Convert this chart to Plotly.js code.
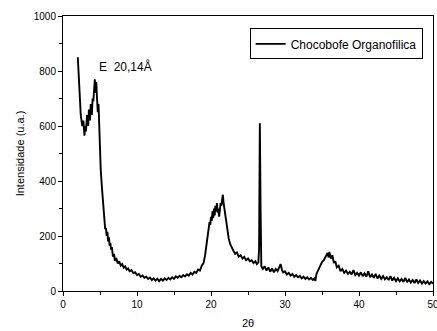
<!DOCTYPE html>
<html>
<head>
<meta charset="utf-8">
<script src="https://cdn.plot.ly/plotly-3.0.1.min.js"></script>
<style>html,body{margin:0;padding:0;background:#fff;}#chart{width:437px;height:331px;}</style>
</head>
<body>
<div id="chart"></div>
<script>
const seriesName = "Chocobofe Organofilica";
const peakLabel = "E  20,14Å";
const peakLabelX = 4.6;
const peakLabelY = 815;

const twoTheta = [
2.0,2.1,2.25,2.4,2.6,2.75,2.9,3.0,3.1,3.25,3.4,3.5,3.65,3.75,3.9,4.0,4.1,4.2,4.3,4.4,4.5,4.6,4.7,4.8,4.9,
5.0,5.1,5.25,5.4,5.5,5.6,5.7,5.8,5.9,6.0,6.1,6.2,6.3,6.4,6.5,6.6,6.75,6.9,7.0,7.2,7.4,7.6,7.8,8.0,8.2,8.4,8.6,8.8,
9.0,9.25,9.5,9.75,10.0,10.25,10.5,10.75,11.0,11.25,11.5,11.75,12.0,12.25,12.5,12.75,13.0,13.25,13.5,13.75,
14.0,14.25,14.5,14.75,15.0,15.25,15.5,15.75,16.0,16.25,16.5,16.75,17.0,17.25,17.5,17.75,18.0,18.25,18.5,18.75,
19.0,19.2,19.4,19.6,19.8,19.9,20.0,20.1,20.2,20.3,20.4,20.5,20.6,20.7,20.8,20.9,21.0,21.1,21.2,21.3,21.4,21.5,21.6,21.7,21.8,21.9,
22.0,22.2,22.4,22.6,22.8,23.0,23.25,23.5,23.75,24.0,24.25,24.5,24.75,25.0,25.25,25.5,25.75,26.0,26.2,26.4,26.5,26.6,26.7,26.8,
27.0,27.25,27.5,27.75,28.0,28.25,28.5,28.75,29.0,29.25,29.4,29.6,29.75,30.0,30.25,30.5,30.75,31.0,31.25,31.5,31.75,
32.0,32.25,32.5,32.75,33.0,33.25,33.5,33.75,34.0,34.1,34.25,34.5,34.75,35.0,35.25,35.5,35.75,35.9,36.0,36.2,36.4,36.6,36.8,
37.0,37.25,37.5,37.75,38.0,38.25,38.5,38.75,39.0,39.25,39.5,39.75,40.0,40.25,40.5,40.75,41.0,41.25,41.5,41.75,
42.0,42.25,42.5,42.75,43.0,43.25,43.5,43.75,44.0,44.25,44.5,44.75,45.0,45.25,45.5,45.75,46.0,46.25,46.5,46.75,
47.0,47.25,47.5,47.75,48.0,48.25,48.5,48.75,49.0,49.25,49.5,49.75,50.0
];

const intensity = [
850,800,700,640,600,620,565,600,580,640,600,660,620,680,640,700,690,750,770,720,760,700,650,680,580,
500,440,380,320,280,250,225,230,200,215,180,195,165,175,150,160,125,135,110,120,100,108,92,98,85,90,78,82,
72,76,65,68,58,62,52,56,48,52,44,49,40,46,38,45,36,44,38,46,
40,48,42,50,44,53,48,55,50,58,53,61,56,66,60,70,66,78,74,92,
102,130,175,210,250,240,270,255,290,265,300,275,310,290,320,285,300,270,290,320,310,340,350,320,300,280,
260,220,190,170,155,148,135,140,125,130,118,124,112,118,108,112,102,108,98,104,155,610,300,90,
80,90,74,86,70,82,68,80,72,86,98,76,68,72,60,66,56,62,52,58,50,
55,46,52,44,50,42,48,40,46,36,62,78,92,105,112,126,138,122,142,118,130,102,108,
86,92,72,80,66,74,62,70,60,76,58,66,56,68,54,64,52,72,50,60,
48,62,46,56,44,54,42,50,40,54,38,48,36,46,35,44,33,48,32,42,
31,40,29,42,29,38,27,36,27,35,25,33,27
];

const xTickVals = [0,10,20,30,40,50];
const yTickVals = [0,200,400,600,800,1000];

const trace = {
  x: twoTheta,
  y: intensity,
  type: 'scatter',
  mode: 'lines',
  name: seriesName,
  line: {color: '#000', width: 1.9},
  showlegend: true
};

const fam = 'Liberation Sans, Arial, sans-serif';
const fnt = {family: fam, size: 10, color: '#000'};

const layout = {
  width: 437,
  height: 331,
  margin: {l: 63, r: 4, t: 16, b: 40},
  paper_bgcolor: '#fff',
  plot_bgcolor: '#fff',
  font: fnt,
  showlegend: true,
  legend: {
    x: 0.972, y: 0.955, xanchor: 'right', yanchor: 'top',
    bgcolor: '#fff', bordercolor: '#000', borderwidth: 1,
    font: {family: fam, size: 12, color: '#000'},
    itemwidth: 30, tracegroupgap: 0
  },
  xaxis: {
    range: [0, 50],
    tickvals: xTickVals,
    ticks: 'outside', ticklen: 4, tickwidth: 1, tickcolor: '#000',
    ticklabeloverflow: 'allow',
    minor: {dtick: 5, ticks: 'outside', ticklen: 3, tickcolor: '#000', tickwidth: 1},
    showline: true, linecolor: '#000', linewidth: 1, mirror: true,
    showgrid: false, zeroline: false,
    tickfont: fnt,
    title: {text: '2θ', font: {family: fam, size: 11, color: '#000'}, standoff: 10}
  },
  yaxis: {
    range: [0, 1000],
    tickvals: yTickVals,
    ticks: 'outside', ticklen: 4, tickwidth: 1, tickcolor: '#000',
    minor: {dtick: 100, ticks: 'outside', ticklen: 3, tickcolor: '#000', tickwidth: 1},
    showline: true, linecolor: '#000', linewidth: 1, mirror: true,
    showgrid: false, zeroline: false,
    tickfont: fnt,
    title: {text: 'Intensidade (u.a.)', font: {family: fam, size: 11, color: '#000'}, standoff: 6}
  },
  annotations: [{
    x: peakLabelX, y: peakLabelY, xref: 'x', yref: 'y',
    text: peakLabel, showarrow: false, xanchor: 'left', yanchor: 'middle',
    font: {family: fam, size: 12, color: '#000'}
  }]
};

Plotly.newPlot('chart', [trace], layout, {displayModeBar: false, staticPlot: true});
</script>
</body>
</html>
